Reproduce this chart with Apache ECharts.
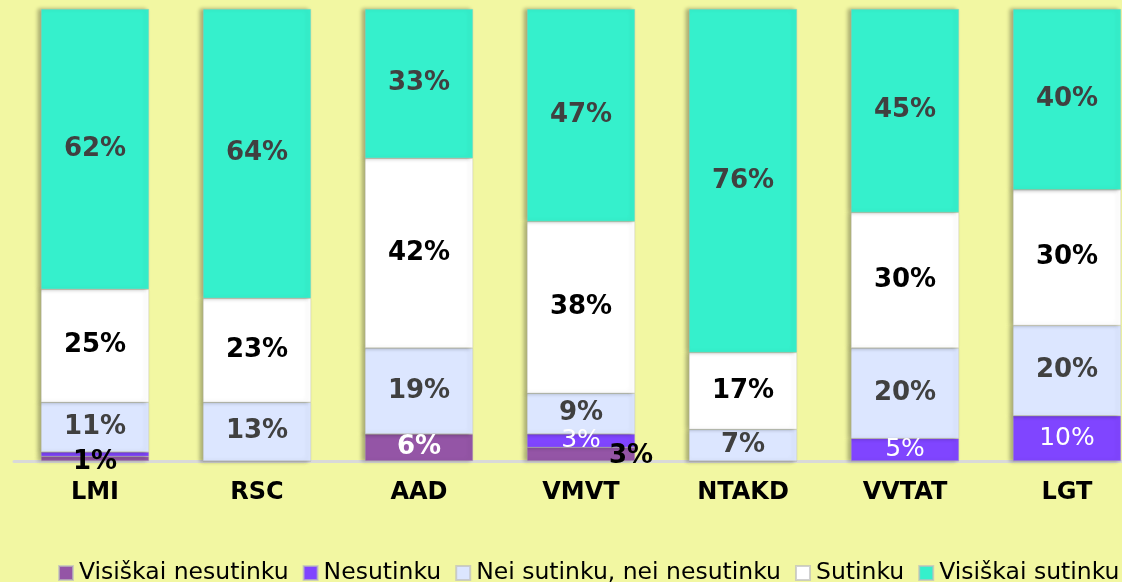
<!DOCTYPE html>
<html>
<head>
<meta charset="utf-8">
<script src="https://cdn.jsdelivr.net/npm/echarts@6/dist/echarts.min.js"></script>
<style>
  html, body { margin: 0; padding: 0; background: #f2f7a2; overflow: hidden; }
  #chart { width: 1170px; height: 582px; }
</style>
</head>
<body>
<div id="chart"></div>
<script>
// kategorijos ir reikšmės (%)
const categories = ['LMI', 'RSC', 'AAD', 'VMVT', 'NTAKD', 'VVTAT', 'LGT']
const visiskaiNesutinku = [1, 0, 6, 3, 0, 0, 0]
const nesutinku = [1, 0, 0, 3, 0, 5, 10]
const neiNei = [11, 13, 19, 9, 7, 20, 20]
const sutinku = [25, 23, 42, 38, 17, 30, 30]
const visiskaiSutinku = [62, 64, 33, 47, 76, 45, 40]

const myChart = echarts.init(document.getElementById('chart'))

const fmt = function (p) {
  return p.value > 0 ? p.value + '%' : ''
}
const shadow = {
  shadowColor: 'rgba(0,0,0,0.3)',
  shadowBlur: 4,
  shadowOffsetX: -3,
  shadowOffsetY: 0
}

function mkSeries (name, values, color, labelColor, bold) {
  return {
    name: name,
    type: 'bar',
    stack: 'total',
    barWidth: 108,
    data: values,
    itemStyle: Object.assign({ color: color, borderColor: 'rgba(190,190,190,0.7)', borderWidth: 0.5 }, shadow),
    label: {
      show: true,
      position: 'inside',
      formatter: fmt,
      color: labelColor,
      fontFamily: 'DejaVu Sans',
      fontSize: bold ? 26 : 25,
      fontWeight: bold ? 'bold' : 'normal'
    }
  }
}

// rankiniu būdu perkeltos etiketės, kaip originale
const vnData = visiskaiNesutinku.map(function (v, i) {
  if (i === 0) return { value: v, label: { color: '#000', offset: [0, 4] } }
  if (i === 3) return { value: v, label: { color: '#000', offset: [50, 2] } }
  return v
})
const nData = nesutinku.map(function (v, i) {
  if (i === 0) return { value: v, label: { show: false } }
  return v
})

const option = {
  backgroundColor: '#f2f7a2',
  grid: { left: 14, top: 9, width: 1134, height: 452 },
  legend: {
    left: 53,
    top: 556,
    itemWidth: 14,
    itemHeight: 14,
    itemGap: 14,
    icon: 'rect',
    textStyle: { fontFamily: 'DejaVu Sans', fontSize: 23.5, color: '#000', padding: [0, 0, 0, 1] },
    data: ['Visiškai nesutinku', 'Nesutinku', 'Nei sutinku, nei nesutinku', 'Sutinku', 'Visiškai sutinku']
  },
  xAxis: {
    type: 'category',
    data: categories,
    axisLine: { show: true, lineStyle: { color: '#d9d9d9', width: 3 } },
    axisTick: { show: false },
    axisLabel: {
      margin: 20,
      color: '#000',
      fontFamily: 'DejaVu Sans',
      fontSize: 24,
      fontWeight: 'bold'
    }
  },
  yAxis: {
    type: 'value',
    min: 0,
    max: 100,
    show: false
  },
  series: [
    mkSeries('Visiškai nesutinku', vnData, '#9455a6', '#fff', true),
    mkSeries('Nesutinku', nData, '#8045ff', '#fff', false),
    mkSeries('Nei sutinku, nei nesutinku', neiNei, '#dce6ff', '#404040', true),
    mkSeries('Sutinku', sutinku, '#ffffff', '#000', true),
    mkSeries('Visiškai sutinku', visiskaiSutinku, '#35f0cc', '#404040', true)
  ]
}
myChart.setOption(option)
</script>
</body>
</html>
